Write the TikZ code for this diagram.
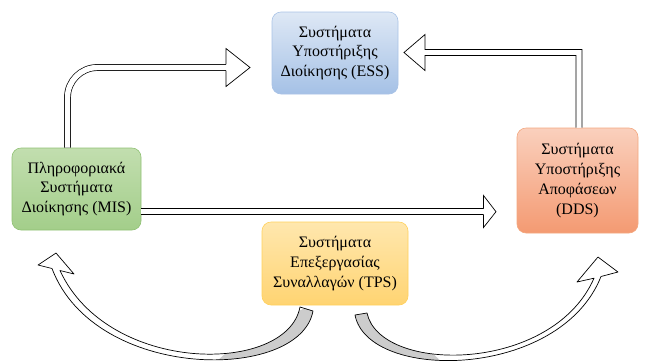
\documentclass[tikz,border=0pt]{standalone}
\usepackage{fontspec}
\setmainfont{Liberation Serif}
\usetikzlibrary{calc}
\definecolor{esstop}{HTML}{DEE8F5}
\definecolor{essbot}{HTML}{A5C1E6}
\definecolor{essline}{HTML}{A9C3E6}
\definecolor{mistop}{HTML}{C2DEAF}
\definecolor{misbot}{HTML}{A3CE8A}
\definecolor{misline}{HTML}{90C174}
\definecolor{ddstop}{HTML}{FAD0BD}
\definecolor{ddsbot}{HTML}{F49A72}
\definecolor{ddsline}{HTML}{F3A880}
\definecolor{tpstop}{HTML}{FFE7AE}
\definecolor{tpsbot}{HTML}{FFD472}
\definecolor{tpsline}{HTML}{FFD15C}
\definecolor{ribbon}{HTML}{CCCCCC}
\begin{document}
\begin{tikzpicture}[x=1pt,y=-1pt,
  box/.style={rounded corners=9pt, line width=0.6pt, align=center, inner sep=0pt,
    font=\fontsize{16}{19.8}\selectfont},
  dbl/.style={line width=0.7pt, double=white, double distance=5.4pt},
  headline/.style={line width=0.7pt, line join=miter},
  curveline/.style={line width=0.7pt, line join=round}]
\useasboundingbox (0,0) rectangle (649,360);

% boxes
\node[box, minimum width=126pt, minimum height=82pt, top color=esstop, bottom color=essbot, draw=essline]
  (ess) at (335,53) {Συστήματα\\Υποστήριξης\\Διοίκησης (ESS)};
\node[box, minimum width=129pt, minimum height=82pt, top color=mistop, bottom color=misbot, draw=misline]
  (mis) at (76.5,189) {Πληροφοριακά\\Συστήματα\\Διοίκησης (MIS)};
\node[box, minimum width=121pt, minimum height=105pt, top color=ddstop, bottom color=ddsbot, draw=ddsline]
  (dds) at (577.5,180.5) {Συστήματα\\Υποστήριξης\\Αποφάσεων\\(DDS)};
\node[box, minimum width=146pt, minimum height=83pt, top color=tpstop, bottom color=tpsbot, draw=tpsline]
  (tps) at (335,263.5) {Συστήματα\\Επεξεργασίας\\Συναλλαγών (TPS)};

% MIS -> ESS
\coordinate (t1) at (250,67.5);
\coordinate (m0) at ($(mis.north)+(-9,0)$);
\draw[dbl, rounded corners=30pt] (m0) |- (227,67.5);
\fill[white] (226,64.4) -- (226,48.5) -- (t1) -- (226,86.5) -- (226,70.6) -- cycle;
\draw[headline] (226,64.4) -- (226,48.5) -- (t1) -- (226,86.5) -- (226,70.6);

% DDS -> ESS (outlined block arrow)
\coordinate (t2) at (404,52.5);
\coordinate (d0) at ($(dds.north)+(1.5,0)$);
\filldraw[headline, fill=white]
  ($(d0)+(-3.05,0)$) -- ($(d0 |- t2)+(-3.05,3.05)$) -- ($(t2)+(21,3.05)$) -- ($(t2)+(21,18)$)
  -- (t2) -- ($(t2)+(21,-18)$) -- ($(t2)+(21,-3.05)$) -- ($(d0 |- t2)+(3.05,-3.05)$) -- ($(d0)+(3.05,0)$);

% MIS -> DDS
\coordinate (t3) at (496,211.7);
\draw[dbl] (mis.east |- t3) -- (484.5,211.7);
\fill[white] (483.5,208.6) -- (483.5,195.5) -- (t3) -- (483.5,227.5) -- (483.5,214.8) -- cycle;
\draw[headline] (483.5,208.6) -- (483.5,195.5) -- (t3) -- (483.5,227.5) -- (483.5,214.8);

% TPS -> MIS (curved)
\coordinate (t4) at (56,253);
\def\leftarrowpath{(313,311) .. controls (300,382) and (95,382) .. (52,268.5) -- (38,265) -- (t4) -- (74,274)
  -- (60,270.5) .. controls (108,375) and (287,375) .. (300,307) -- cycle}
\fill[white] \leftarrowpath;
\begin{scope}
  \clip \leftarrowpath;
  \fill[ribbon] (330,295) -- (330,372) -- (205,372) -- (237,343) -- cycle;
\end{scope}
\draw[curveline] \leftarrowpath;

% TPS -> DDS (curved)
\coordinate (t5) at (598,257);
\def\rightarrowpath{(355,315) .. controls (368,382) and (560,380) .. (601,276.5) -- (618,272) -- (t5) -- (577,282)
  -- (594,278.2) .. controls (552,374) and (380,374) .. (367,313) -- cycle}
\fill[white] \rightarrowpath;
\begin{scope}
  \clip \rightarrowpath;
  \fill[ribbon] (340,295) -- (340,372) -- (452,372) -- (422,343) -- cycle;
\end{scope}
\draw[curveline] \rightarrowpath;
\end{tikzpicture}
\end{document}
